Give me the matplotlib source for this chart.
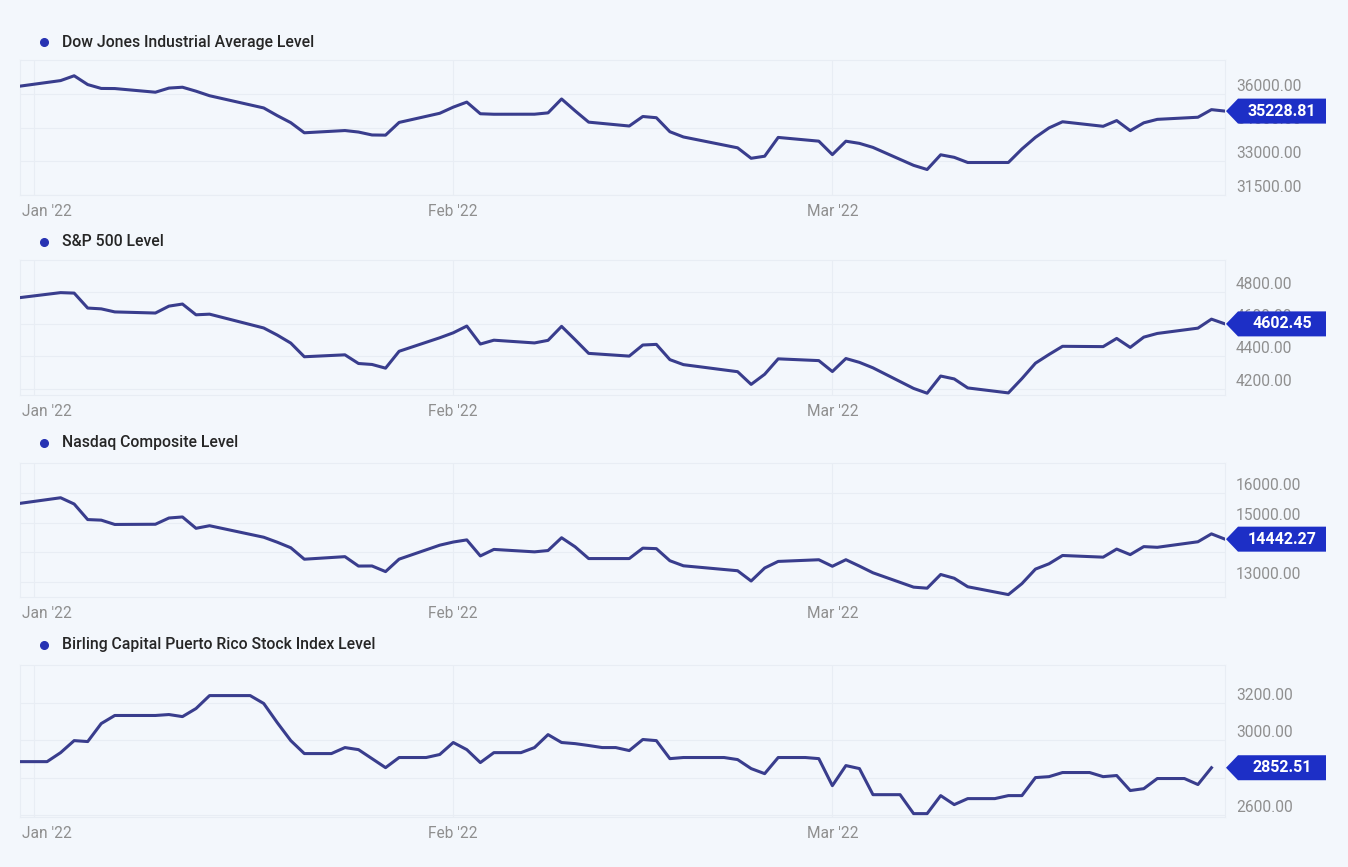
import matplotlib
matplotlib.use("Agg")
import matplotlib.pyplot as plt
import matplotlib.dates as mdates
import matplotlib.transforms as mtransforms
from matplotlib.lines import Line2D
from matplotlib.patches import Polygon
import pandas as pd

plt.rcParams['font.family'] = ['Roboto', 'DejaVu Sans']

# trading days (NYSE holidays Jan 17 and Feb 21 left out)
trade_days = pd.bdate_range("2021-12-31", "2022-03-30")
trade_days = trade_days[~trade_days.isin(pd.to_datetime(["2022-01-17", "2022-02-21"]))]

dow = [36338, 36585, 36799, 36408, 36236, 36231, 36068, 36252, 36290, 36114, 35912,
       35369, 35029, 34715, 34265, 34365, 34298, 34168, 34160, 34725, 35132, 35405,
       35629, 35111, 35089, 35091, 35150, 35768, 35241, 34738, 34566, 34989, 34935,
       34312, 34079, 33597, 33132, 33224, 34059, 33893, 33294, 33891, 33795, 33615,
       32818, 32633, 33287, 33174, 32944, 32945, 33544, 34063, 34481, 34755, 34553,
       34808, 34359, 34708, 34862, 34956, 35294, 35228.81]

sp500 = [4766, 4797, 4794, 4701, 4696, 4677, 4670, 4713, 4726, 4659, 4663,
         4577, 4533, 4483, 4398, 4410, 4356, 4350, 4327, 4432, 4516, 4547,
         4589, 4477, 4501, 4484, 4500, 4587, 4504, 4419, 4402, 4471, 4475,
         4380, 4349, 4305, 4226, 4289, 4385, 4374, 4306, 4387, 4363, 4329,
         4201, 4171, 4278, 4260, 4204, 4173, 4262, 4358, 4412, 4463, 4461,
         4512, 4456, 4520, 4543, 4576, 4632, 4602.45]

nasdaq = [15645, 15833, 15623, 15100, 15081, 14936, 14943, 15153, 15188, 14807, 14894,
          14507, 14340, 14154, 13769, 13855, 13539, 13542, 13353, 13771, 14240, 14346,
          14418, 13879, 14098, 14016, 14060, 14490, 14186, 13791, 13791, 14140, 14124,
          13717, 13548, 13382, 13037, 13474, 13695, 13751, 13532, 13752, 13538, 13313,
          12831, 12796, 13256, 13130, 12844, 12581, 12949, 13437, 13615, 13894, 13838,
          14109, 13923, 14192, 14169, 14355, 14620, 14442.27]

# Birling index is published every calendar day
birling_days = pd.date_range("2021-12-31", "2022-03-29")
birling = [2885, 2885, 2885, 2933, 2997, 2992, 3088, 3131, 3131, 3131, 3131, 3136,
           3125, 3168, 3237, 3237, 3237, 3237, 3195, 3093, 2997, 2928, 2928, 2928,
           2960, 2949, 2901, 2853, 2907, 2907, 2907, 2923, 2987, 2949, 2880, 2933,
           2933, 2933, 2960, 3029, 2987, 2981, 2971, 2960, 2960, 2944, 3003, 2997,
           2901, 2907, 2907, 2907, 2907, 2896, 2848, 2821, 2907, 2907, 2907, 2901,
           2757, 2864, 2848, 2709, 2709, 2709, 2608, 2608, 2704, 2656, 2688, 2688,
           2688, 2704, 2704, 2800, 2805, 2827, 2827, 2827, 2805, 2811, 2731, 2741,
           2795, 2795, 2795, 2763, 2852.51]

titles = ["Dow Jones Industrial Average Level", "S&P 500 Level",
          "Nasdaq Composite Level", "Birling Capital Puerto Rico Stock Index Level"]
y_ticks = [[31500, 33000, 34500, 36000], [4200, 4400, 4600, 4800],
           [13000, 14000, 15000, 16000], [2600, 2800, 3000, 3200]]
y_limits = [(31500, 37500), (4160, 5000), (12500, 17000), (2590, 3400)]
month_ticks = pd.to_datetime(["2022-01-01", "2022-02-01", "2022-03-01"])
month_labels = ["Jan '22", "Feb '22", "Mar '22"]

series = [(trade_days, dow), (trade_days, sp500), (trade_days, nasdaq), (birling_days, birling)]

W, H = 1348, 867
bg = "#f3f7fc"
grid_c = "#e8edf4"
line_c = "#393d8d"
box_c = "#1d2fc6"
tick_c = "#8f8f8f"

# panel frames in pixels: (top, bottom), legend y
frames = [(60, 195), (260, 395), (463, 597), (665, 817)]
legend_y = [42, 242, 443, 645]
left_px, right_px = 20, 1225

fig = plt.figure(figsize=(W / 100, H / 100), dpi=100, facecolor=bg)

for i in range(4):
    top, bot = frames[i]
    ax = fig.add_axes([left_px / W, 1 - bot / H, (right_px - left_px) / W, (bot - top) / H])
    ax.set_facecolor(bg)
    x, y = series[i]
    ax.plot(x, y, color=line_c, lw=2.2, solid_joinstyle="round", zorder=3)

    ax.set_xlim(pd.Timestamp("2021-12-31"), pd.Timestamp("2022-03-30"))
    ax.set_ylim(*y_limits[i])
    ax.set_yticks(y_ticks[i])
    ax.set_xticks(month_ticks)
    ax.grid(True, color=grid_c, lw=0.8)
    ax.tick_params(length=0, labelleft=False, labelbottom=False)
    for s in ax.spines.values():
        s.set_color(grid_c)
        s.set_linewidth(0.8)

    # right side value labels, sitting just above their grid line
    ytrans = mtransforms.blended_transform_factory(fig.transFigure, ax.transData)
    for t in y_ticks[i]:
        ax.text(1236 / W, t, f"{t:.2f}", transform=ytrans, ha="left", va="bottom",
                fontsize=11.2, color=tick_c, zorder=2, clip_on=False)

    # month labels
    xtrans = mtransforms.blended_transform_factory(ax.transData, fig.transFigure)
    ylab = 1 - (bot + 17) / H
    for j, (d, lab) in enumerate(zip(month_ticks, month_labels)):
        if j == 0:
            ax.text(22 / W, ylab, lab, transform=fig.transFigure, ha="left", va="center",
                    fontsize=11.2, color=tick_c)
        else:
            ax.text(mdates.date2num(d), ylab, lab, transform=xtrans, ha="center",
                    va="center", fontsize=11.2, color=tick_c)

    # legend
    ly = 1 - legend_y[i] / H
    fig.add_artist(Line2D([44 / W], [ly], marker="o", ms=5.5, color="#2733b3",
                          transform=fig.transFigure))
    fig.text(62 / W, ly, titles[i], ha="left", va="center", fontsize=11.3,
             color="#262626", fontweight="medium")

    # last value flag
    last = y[-1]
    yc = ax.transData.transform((mdates.date2num(x[-1]), last))[1]
    hh = 12.5
    pts_px = [(1226, yc), (1238, yc + hh), (1326, yc + hh), (1326, yc - hh), (1238, yc - hh)]
    pts = [(px / W, py / H) for px, py in pts_px]
    fig.add_artist(Polygon(pts, closed=True, facecolor=box_c, edgecolor="none",
                           transform=fig.transFigure, zorder=5))
    fig.text(1282 / W, yc / H, f"{last:.2f}", ha="center", va="center", fontsize=11.5,
             color="white", fontweight="bold", zorder=6)

fig.savefig("out.png", dpi=100, facecolor=bg)
